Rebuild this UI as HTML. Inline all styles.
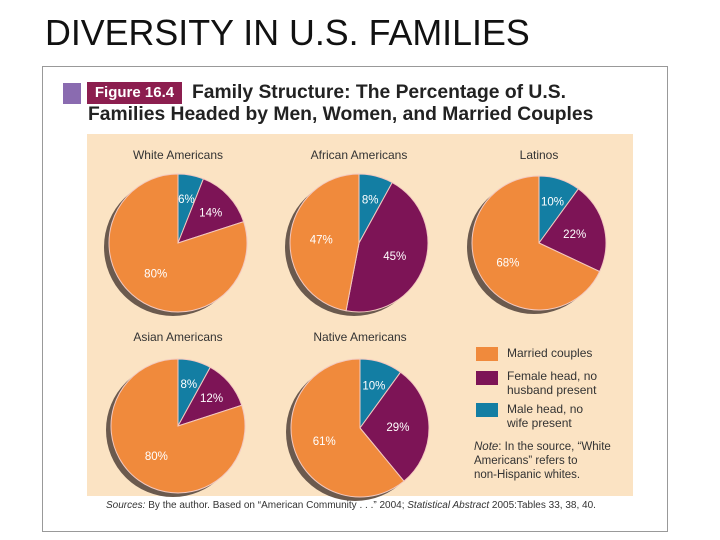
<!DOCTYPE html>
<html><head><meta charset="utf-8"><style>
body{margin:0;width:720px;height:540px;background:#fff;font-family:"Liberation Sans",sans-serif;position:relative;overflow:hidden}
.a{position:absolute;white-space:nowrap}
</style></head><body>
<div class="a" style="left:45px;top:13px;font-size:35.8px;color:#111">DIVERSITY IN U.S. FAMILIES</div>
<div class="a" style="left:42px;top:66px;width:624px;height:464px;border:1px solid #999"></div>
<div class="a" style="left:63px;top:83px;width:18px;height:21px;background:#8a6bb0"></div>
<div class="a" style="left:87px;top:82px;width:95px;height:22px;background:#8c1e4f;color:#fff;font-weight:bold;font-size:15px;line-height:22px;text-align:center">Figure 16.4</div>
<div class="a" style="left:192px;top:82px;font-size:19.3px;font-weight:bold;color:#222;line-height:22px">Family Structure: The Percentage of U.S.</div>
<div class="a" style="left:88px;top:104px;font-size:19.3px;font-weight:bold;color:#222;line-height:22px">Families Headed by Men, Women, and Married Couples</div>
<div class="a" style="left:87px;top:134px;width:546px;height:362px;background:#fbe3c3"></div>
<svg class="a" id="pies" style="left:0;top:0" width="720" height="540"></svg>
<div class="a" style="left:476px;top:347px;width:22px;height:14px;background:#f08a3c"></div>
<div class="a" style="left:476px;top:371px;width:22px;height:14px;background:#7d1456"></div>
<div class="a" style="left:476px;top:403px;width:22px;height:14px;background:#137ea3"></div>
<div class="a" style="left:507px;top:346px;font-size:12px;color:#333">Married couples</div>
<div class="a" style="left:507px;top:369px;font-size:12px;color:#333;line-height:14px">Female head, no<br>husband present</div>
<div class="a" style="left:507px;top:402px;font-size:12px;color:#333;line-height:14px">Male head, no<br>wife present</div>
<div class="a" style="left:474px;top:440px;font-size:11.5px;color:#333;line-height:14px"><i>Note</i>: In the source, “White<br>Americans” refers to<br>non-Hispanic whites.</div>
<div class="a" style="left:106px;top:500px;font-size:10px;color:#333"><i>Sources:</i> By the author. Based on “American Community . . .” 2004; <i>Statistical Abstract</i> 2005:Tables 33, 38, 40.</div>
<script>
const groups=["White Americans","African Americans","Latinos","Asian Americans","Native Americans"];
const maleHead=[6,8,10,8,10];
const femaleHead=[14,45,22,12,29];
const married=[80,47,68,80,61];
const centers=[[178,243,69],[359,243,69],[539,243,67],[178,426,67],[360,428,69]];
const titleY=[159,159,159,341,341];
const colors=["#137ea3","#7d1456","#f08a3c"];
const svg=document.getElementById('pies');
const NS="http://www.w3.org/2000/svg";
function pt(cx,cy,r,f){const a=f*2*Math.PI;return [cx+r*Math.sin(a),cy-r*Math.cos(a)];}
groups.forEach((g,i)=>{
  const [cx,cy,r]=centers[i];
  const sh=document.createElementNS(NS,'circle');
  
  
  sh.setAttribute('cx',cx-5);sh.setAttribute('cy',cy+4);sh.setAttribute('r',r);sh.setAttribute('fill','#6b5a4e');
  svg.appendChild(sh);
  const vals=[maleHead[i],femaleHead[i],married[i]];
  const tot=vals.reduce((a,b)=>a+b,0);
  let acc=0;
  vals.forEach((v,k)=>{
    const f0=acc/tot,f1=(acc+v)/tot;acc+=v;
    const p0=pt(cx,cy,r,f0),p1=pt(cx,cy,r,f1);
    const path=document.createElementNS(NS,'path');
    
    
    path.setAttribute('d',`M${cx},${cy}L${p0[0]},${p0[1]}A${r},${r} 0 ${f1-f0>0.5?1:0} 1 ${p1[0]},${p1[1]}Z`);
    path.setAttribute('fill',colors[k]);path.setAttribute('stroke','#f3c9c0');path.setAttribute('stroke-width','1');
    svg.appendChild(path);
    const m=(f0+f1)/2;const lr=v<15?r*0.65:r*0.55;
    const lp=pt(cx,cy,lr,m);
    const t=document.createElementNS(NS,'text');
    
    
    t.setAttribute('x',lp[0]);t.setAttribute('y',lp[1]+4);t.setAttribute('text-anchor','middle');
    t.setAttribute('font-size','11.5');t.setAttribute('fill','#fff');t.setAttribute('font-family','Liberation Sans, sans-serif');
    t.textContent=v+'%';svg.appendChild(t);
  });
  const tt=document.createElementNS(NS,'text');
  
  
  tt.setAttribute('x',cx);tt.setAttribute('y',titleY[i]);tt.setAttribute('text-anchor','middle');
  tt.setAttribute('font-size','12');tt.setAttribute('fill','#333');tt.setAttribute('font-family','Liberation Sans, sans-serif');
  tt.textContent=g;svg.appendChild(tt);
});
</script>
</body></html>
